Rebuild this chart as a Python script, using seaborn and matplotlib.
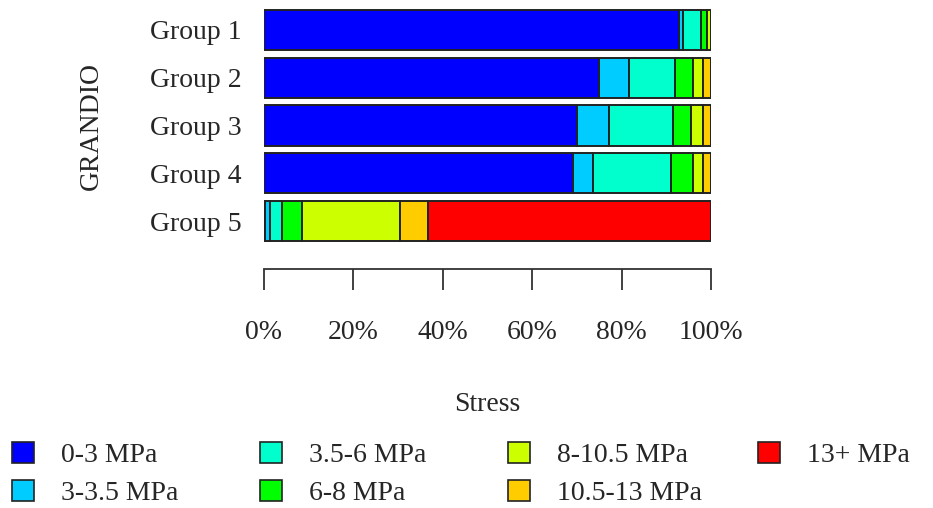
import numpy as np
import pandas as pd
import seaborn as sns
import matplotlib.pyplot as plt
from matplotlib.patches import Patch

# === data (percent of area per stress range) ===
groups = ["Group 1", "Group 2", "Group 3", "Group 4", "Group 5"]
ranges = ["0-3 MPa", "3-3.5 MPa", "3.5-6 MPa", "6-8 MPa",
          "8-10.5 MPa", "10.5-13 MPa", "13+ MPa"]
colors = ["#0000FF", "#00CCFF", "#00FFCC", "#00FF00",
          "#CCFF00", "#FFCC00", "#FF0000"]

pct_0_3 = [92.8, 75.0, 70.0, 69.1, 0.2]
pct_3_35 = [1.0, 6.7, 7.2, 4.5, 1.1]
pct_35_6 = [4.0, 10.2, 14.2, 17.5, 2.8]
pct_6_8 = [1.2, 4.1, 4.1, 4.9, 4.4]
pct_8_105 = [0.9, 2.1, 2.7, 2.2, 22.0]
pct_105_13 = [0.1, 1.9, 1.8, 1.8, 6.3]
pct_13 = [0.0, 0.0, 0.0, 0.0, 63.2]
values = [pct_0_3, pct_3_35, pct_35_6, pct_6_8, pct_8_105, pct_105_13, pct_13]

rows = []
for r, vals in zip(ranges, values):
    for i, v in enumerate(vals):
        rows.append({"pos": i, "range": r, "pct": v})
df = pd.DataFrame(rows)

sns.set_style("white")
plt.rcParams["font.family"] = ["Liberation Serif", "DejaVu Serif"]
FS = 20

fig = plt.figure(figsize=(9.33, 5.08), dpi=100)
ax = fig.add_axes([264 / 933, 1 - 245 / 508, 447 / 933, 239 / 508])

# seaborn stacks the last hue level at the baseline, so reverse order
sns.histplot(data=df, y="pos", hue="range", weights="pct",
             hue_order=ranges[::-1], palette=dict(zip(ranges, colors)),
             multiple="stack", discrete=True, shrink=0.84,
             edgecolor="#222222", linewidth=1.4, alpha=1,
             legend=False, ax=ax)

ax.set_xlim(0, 100)
ax.set_ylim(4.5, -0.5)
ax.set_yticks(range(len(groups)))
ax.set_yticklabels(groups)
ax.tick_params(axis="y", length=0, pad=16, labelsize=FS)

ax.set_xticks([0, 20, 40, 60, 80, 100])
ax.set_xticklabels(["0%", "20%", "40%", "60%", "80%", "100%"])
ax.tick_params(axis="x", direction="out", length=15, width=1.3,
               color="#333333", pad=22, bottom=True, labelsize=FS)

for s in ["top", "right", "left"]:
    ax.spines[s].set_visible(False)
ax.spines["bottom"].set_position(("outward", 17))
ax.spines["bottom"].set_bounds(0, 100)
ax.spines["bottom"].set_linewidth(1.3)
ax.spines["bottom"].set_color("#333333")

ax.set_xlabel("Stress", fontsize=FS)
ax.xaxis.set_label_coords(0.5, -0.613)
ax.set_ylabel("GRANDIO", fontsize=FS)
ax.yaxis.set_label_coords(-0.359, 0.5)

# legend: 4 equal-width columns like the original
handles = [Patch(facecolor=c, edgecolor="#222222", linewidth=1.2, label=r)
           for r, c in zip(ranges, colors)]
col_x = [12, 260, 508, 758]
cols = [handles[0:2], handles[2:4], handles[4:6], handles[6:7]]
for x, hs in zip(col_x, cols):
    fig.legend(handles=hs, loc="upper left",
               bbox_to_anchor=(x / 933, 1 - 442 / 508),
               frameon=False, fontsize=FS, borderpad=0, borderaxespad=0,
               handlelength=0.8, handleheight=0.8, handletextpad=0.95,
               labelspacing=0.42)

plt.savefig("out.png", dpi=100)
